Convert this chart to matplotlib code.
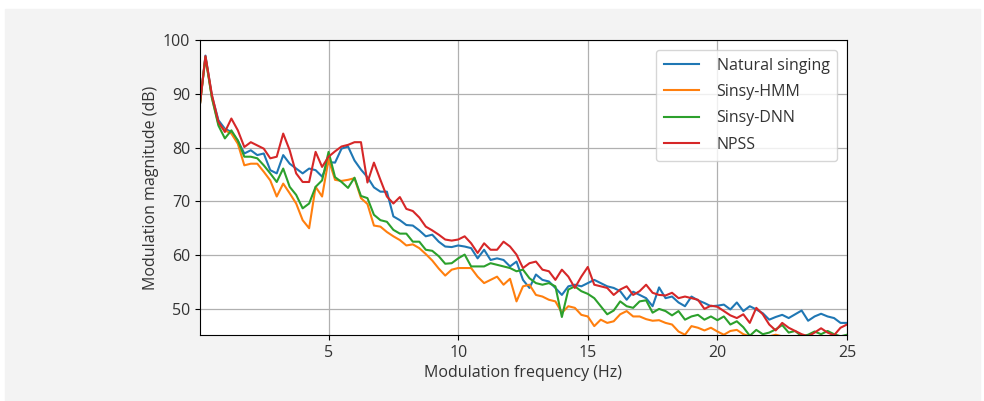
import matplotlib.pyplot as plt
import numpy as np
from matplotlib.patches import Rectangle

plt.rcParams['font.family'] = ['Open Sans', 'DejaVu Sans']

# modulation frequency grid (Hz)
freq = np.arange(0, 25.01, 0.25)

natural = [86.5, 97.1, 89.6, 85.1, 83.5, 82.9, 81.3, 78.9, 79.5, 78.6,
           78.9, 75.8, 75.2, 78.6, 77.0, 76.1, 75.2, 76.1, 75.8, 74.6,
           77.3, 77.2, 79.8, 80.2, 77.6, 75.9, 74.5, 72.6, 71.8, 71.8,
           67.2, 66.5, 65.6, 65.5, 64.6, 63.5, 63.8, 62.5, 61.6, 61.5,
           61.8, 61.6, 61.3, 59.4, 61.0, 59.1, 59.4, 59.1, 57.9, 58.8,
           55.4, 53.9, 56.4, 55.4, 55.1, 53.9, 52.6, 54.2, 54.5, 54.2,
           54.8, 55.4, 54.8, 54.2, 53.9, 53.3, 51.7, 53.2, 52.6, 52.0,
           50.5, 54.0, 52.0, 52.3, 51.2, 50.5, 52.3, 51.6, 51.1, 50.5,
           50.6, 50.8, 49.9, 51.2, 49.6, 50.5, 49.9, 49.2, 48.0, 48.5,
           48.9, 48.3, 49.0, 49.7, 47.8, 48.6, 49.1, 48.6, 48.3, 47.4,
           47.4]

sinsy_hmm = [86.5, 96.8, 89.3, 84.4, 83.2, 82.6, 80.7, 76.7, 77.0, 77.0,
             75.5, 73.9, 70.9, 73.3, 71.5, 69.6, 66.5, 65.0, 72.7, 70.9,
             77.8, 74.0, 73.8, 74.0, 74.3, 70.6, 69.5, 65.5, 65.3, 64.3,
             63.5, 62.8, 61.8, 62.0, 61.3, 60.2, 59.0, 57.5, 56.2, 57.3,
             57.6, 57.6, 57.6, 56.0, 54.8, 55.4, 56.0, 54.5, 55.6, 51.4,
             54.2, 54.5, 52.6, 52.3, 51.7, 51.4, 49.3, 50.5, 50.2, 48.9,
             48.6, 46.8, 48.0, 47.4, 47.7, 49.0, 49.6, 48.6, 48.6, 48.1,
             47.8, 47.9, 47.4, 47.1, 45.8, 45.2, 46.8, 46.5, 46.0, 46.5,
             45.8, 45.2, 45.9, 46.1, 45.3, 44.9, 44.9, 44.6, 44.9, 45.2,
             44.9, 44.7, 44.5, 44.8, 44.6, 44.8, 44.6, 44.9, 44.6, 44.8,
             44.6]

sinsy_dnn = [86.5, 96.8, 89.2, 84.1, 81.7, 83.2, 81.3, 78.3, 78.3, 78.0,
             76.7, 75.2, 73.6, 76.1, 72.7, 71.2, 68.7, 69.6, 72.7, 73.9,
             79.2, 74.5, 73.6, 72.5, 74.4, 71.0, 70.6, 67.5, 66.5, 66.2,
             64.7, 64.0, 64.0, 62.5, 62.5, 61.0, 60.8, 59.8, 58.4, 58.5,
             59.4, 60.1, 57.9, 57.9, 57.9, 58.5, 58.2, 57.9, 57.6, 57.0,
             57.3, 55.7, 54.8, 54.5, 54.8, 54.2, 48.5, 53.6, 54.2, 53.3,
             52.8, 52.0, 50.5, 49.0, 49.7, 51.4, 50.5, 50.2, 51.4, 51.6,
             49.3, 50.0, 49.6, 48.8, 49.6, 48.0, 48.6, 48.9, 48.0, 48.6,
             47.9, 48.6, 47.1, 47.7, 46.6, 45.0, 46.1, 45.3, 45.6, 46.2,
             47.0, 45.6, 45.9, 44.9, 45.2, 45.8, 45.3, 45.9, 45.3, 44.9,
             45.2]

npss = [86.5, 97.0, 89.8, 84.8, 82.9, 85.4, 83.2, 80.1, 81.0, 80.4,
        79.8, 78.0, 78.3, 82.6, 79.5, 75.2, 73.6, 73.6, 79.2, 76.4,
        78.3, 79.3, 80.2, 80.5, 81.0, 81.0, 73.5, 77.2, 74.0, 70.9,
        69.6, 70.8, 68.6, 68.2, 67.0, 65.3, 64.6, 63.8, 62.9, 62.7,
        62.9, 63.5, 62.2, 60.4, 62.2, 61.0, 61.0, 62.5, 61.6, 60.1,
        57.6, 58.5, 58.8, 57.3, 57.0, 55.4, 57.3, 56.0, 53.9, 56.0,
        57.8, 54.5, 54.2, 53.9, 52.6, 53.6, 54.2, 52.6, 53.3, 54.5,
        53.0, 52.6, 52.5, 53.0, 52.0, 52.3, 52.0, 51.7, 50.0, 50.6,
        50.4, 49.6, 48.8, 48.3, 49.0, 47.4, 50.2, 49.0, 47.1, 46.0,
        47.4, 46.5, 45.9, 45.3, 44.9, 45.6, 46.4, 45.6, 45.1, 46.5,
        47.1]

labels = ['Natural singing', 'Sinsy-HMM', 'Sinsy-DNN', 'NPSS']
series = [natural, sinsy_hmm, sinsy_dnn, npss]
colors = ['#1f77b4', '#ff7f0e', '#2ca02c', '#d62728']

fig = plt.figure(figsize=(9.84, 4.01), dpi=100)
fig.patches.append(Rectangle((5 / 984, 0), 975 / 984, 392 / 401,
                             transform=fig.transFigure, color='#f3f3f3', zorder=-10))

ax = fig.add_axes([200 / 984, 1 - 335 / 401, 647 / 984, 295 / 401])
for y, lab, c in zip(series, labels, colors):
    ax.plot(freq, y, color=c, lw=1.5, label=lab)

ax.set_xlim(0.04, 25)
ax.set_ylim(45.15, 100)
ax.set_xticks([5, 10, 15, 20, 25])
ax.set_yticks([50, 60, 70, 80, 90, 100])
ax.grid(True, color='#b0b0b0', lw=0.9)
ax.tick_params(labelsize=11.5, labelcolor='#333333')
ax.set_xlabel('Modulation frequency (Hz)', fontsize=11.5, color='#333333', labelpad=3)
ax.set_ylabel('Modulation magnitude (dB)', fontsize=11.5, color='#333333', labelpad=3)
ax.legend(loc='upper right', fontsize=11.5, labelcolor='#333333',
          borderaxespad=0.6, labelspacing=0.65, handlelength=2.2,
          handletextpad=1.1, borderpad=0.5)

fig.savefig('out.png', dpi=100)
